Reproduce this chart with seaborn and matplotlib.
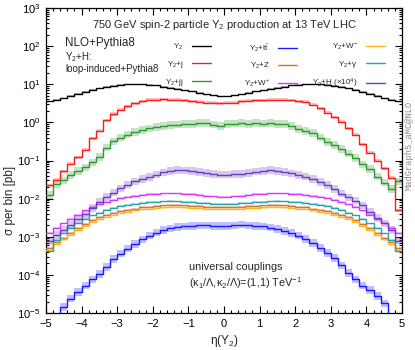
import numpy as np
import pandas as pd
import matplotlib
matplotlib.use("Agg")
import matplotlib.pyplot as plt
from matplotlib.lines import Line2D
from matplotlib.ticker import MultipleLocator, LogLocator, NullFormatter
import seaborn as sns

# ---------------- data (log10 of sigma per bin in pb) -------------
eta_edges = [-5.0 + 0.2 * i for i in range(51)]  # 50 bins of width 0.2 in eta(Y2)

log_y2 = [0.55, 0.59, 0.63, 0.70, 0.75, 0.80, 0.85, 0.89, 0.93, 0.96,
          0.98, 0.995, 1.0, 1.0, 0.99, 0.97, 0.94, 0.91, 0.88, 0.84,
          0.81, 0.77, 0.74, 0.71, 0.68, 0.68, 0.71, 0.74, 0.77, 0.81,
          0.84, 0.88, 0.91, 0.94, 0.97, 0.99, 1.0, 1.0, 0.995, 0.98,
          0.96, 0.93, 0.89, 0.85, 0.80, 0.75, 0.70, 0.63, 0.59, 0.55]
log_y2j = [-1.65, -1.50, -1.28, -1.08, -0.92, -0.72, -0.42, -0.22, 0.05, 0.22,
           0.33, 0.42, 0.50, 0.55, 0.59, 0.60, 0.61, 0.60, 0.60, 0.58,
           0.56, 0.54, 0.52, 0.51, 0.50, 0.51, 0.52, 0.55, 0.57, 0.58,
           0.58, 0.59, 0.59, 0.59, 0.58, 0.56, 0.54, 0.46, 0.37, 0.25,
           0.13, 0.02, -0.15, -0.32, -0.58, -0.80, -1.00, -1.20, -1.45, -2.30]
log_y2jj = [-1.90, -1.62, -1.52, -1.38, -1.27, -1.18, -1.05, -0.90, -0.66, -0.50,
            -0.40, -0.32, -0.26, -0.20, -0.16, -0.12, -0.10, -0.07, -0.06, -0.04,
            -0.05, -0.02, -0.01, -0.06, -0.10, -0.05, -0.03, -0.02, -0.04, -0.01,
            -0.03, -0.02, -0.04, -0.05, -0.10, -0.17, -0.22, -0.28, -0.40, -0.52,
            -0.60, -0.70, -0.82, -0.93, -1.10, -1.22, -1.42, -1.58, -1.75, -1.55]
log_y2tt = [-5.30, -5.10, -4.85, -4.62, -4.45, -4.28, -4.12, -3.98, -3.80, -3.58,
            -3.44, -3.31, -3.19, -3.07, -2.97, -2.89, -2.83, -2.78, -2.75, -2.73,
            -2.71, -2.70, -2.70, -2.71, -2.72, -2.71, -2.70, -2.68, -2.70, -2.71,
            -2.73, -2.76, -2.80, -2.85, -2.90, -2.97, -3.06, -3.17, -3.29, -3.42,
            -3.55, -3.75, -3.95, -4.12, -4.28, -4.40, -4.55, -4.75, -5.10, -5.30]
log_y2z = [-3.30, -3.13, -3.02, -2.90, -2.78, -2.66, -2.57, -2.49, -2.43, -2.38,
           -2.33, -2.29, -2.26, -2.23, -2.21, -2.19, -2.18, -2.17, -2.17, -2.18,
           -2.19, -2.20, -2.21, -2.22, -2.22, -2.22, -2.22, -2.21, -2.20, -2.19,
           -2.18, -2.17, -2.17, -2.18, -2.19, -2.21, -2.23, -2.26, -2.29, -2.33,
           -2.38, -2.43, -2.49, -2.57, -2.66, -2.78, -2.90, -3.02, -3.13, -3.30]
log_y2wp = [-2.90, -2.77, -2.65, -2.53, -2.42, -2.31, -2.22, -2.15, -2.09, -2.03,
            -1.99, -1.95, -1.92, -1.90, -1.88, -1.87, -1.86, -1.86, -1.86, -1.87,
            -1.88, -1.90, -1.92, -1.94, -1.95, -1.95, -1.94, -1.92, -1.90, -1.88,
            -1.87, -1.86, -1.86, -1.86, -1.87, -1.88, -1.90, -1.92, -1.95, -1.99,
            -2.03, -2.09, -2.15, -2.22, -2.31, -2.42, -2.53, -2.65, -2.77, -2.90]
log_y2wm = [-3.36, -3.19, -3.07, -2.95, -2.83, -2.71, -2.62, -2.54, -2.48, -2.43,
            -2.38, -2.34, -2.31, -2.28, -2.26, -2.24, -2.23, -2.22, -2.22, -2.23,
            -2.24, -2.25, -2.26, -2.27, -2.27, -2.27, -2.27, -2.26, -2.25, -2.24,
            -2.23, -2.22, -2.22, -2.23, -2.24, -2.26, -2.28, -2.31, -2.34, -2.38,
            -2.43, -2.48, -2.54, -2.62, -2.71, -2.83, -2.95, -3.07, -3.19, -3.36]
log_y2a = [-3.38, -3.08, -2.91, -2.77, -2.65, -2.53, -2.44, -2.37, -2.30, -2.25,
           -2.20, -2.16, -2.13, -2.11, -2.09, -2.08, -2.07, -2.06, -2.07, -2.08,
           -2.09, -2.11, -2.12, -2.13, -2.14, -2.14, -2.13, -2.12, -2.11, -2.09,
           -2.08, -2.07, -2.06, -2.07, -2.08, -2.09, -2.11, -2.13, -2.16, -2.20,
           -2.25, -2.30, -2.37, -2.44, -2.53, -2.65, -2.77, -2.91, -3.08, -3.38]
log_y2h = [-3.12, -2.95, -2.81, -2.68, -2.54, -2.40, -2.25, -2.08, -1.95, -1.84,
           -1.73, -1.63, -1.55, -1.49, -1.43, -1.37, -1.31, -1.27, -1.25, -1.26,
           -1.28, -1.30, -1.32, -1.35, -1.37, -1.37, -1.36, -1.36, -1.32, -1.29,
           -1.27, -1.25, -1.27, -1.30, -1.34, -1.38, -1.42, -1.48, -1.56, -1.65,
           -1.75, -1.87, -1.97, -2.05, -2.18, -2.34, -2.50, -2.65, -2.82, -3.10]

labels = ["Y$_2$", "Y$_2$+j", "Y$_2$+jj",
          "Y$_2$+t$\\bar{\\rm t}$", "Y$_2$+Z", "Y$_2$+W$^{+}$",
          "Y$_2$+W$^{-}$", "Y$_2$+$\\gamma$", "Y$_2$+H (\u00d710$^{4}$)"]
series = [log_y2, log_y2j, log_y2jj, log_y2tt, log_y2z, log_y2wp, log_y2wm, log_y2a, log_y2h]
colors = ["#000000", "#ff1a1a", "#2e9a2e", "#1a1aff", "#d9703a", "#dd33ff",
          "#ffb520", "#1fa8a8", "#6e3cc4"]
band = [0.015, 0.04, 0.10, 0.10, 0.025, 0.02, 0.03, 0.02, 0.10]  # half-width of shaded band (dex)

# ---------------- style ----------------
sns.set_theme(style="ticks")
plt.rcParams["font.family"] = ["Liberation Sans", "DejaVu Sans"]
plt.rcParams["mathtext.fontset"] = "custom"
plt.rcParams["mathtext.rm"] = "Liberation Sans"
plt.rcParams["mathtext.it"] = "Liberation Sans:italic"
plt.rcParams["mathtext.default"] = "rm"

fig = plt.figure(figsize=(4.15, 3.5), dpi=100)
ax = fig.add_axes([46 / 415, 1 - 313 / 350, 356 / 415, 305 / 350])
ax.set_yscale("log")

edges = np.array(eta_edges)
for lab, vals, c, bw in zip(labels, series, colors, band):
    v = np.array(vals)
    v_ext = np.append(v, v[-1])
    ax.fill_between(edges, 10 ** (v_ext - bw), 10 ** (v_ext + bw), step="post",
                    color=c, alpha=0.28, lw=0, zorder=1)
    df = pd.DataFrame({"eta": edges, "sigma": 10 ** v_ext})
    sns.lineplot(data=df, x="eta", y="sigma", color=c, drawstyle="steps-post",
                 lw=1.0, estimator=None, ax=ax, zorder=3)

ax.set_xlim(-5, 5)
ax.set_ylim(1e-5, 1e3)
ax.xaxis.set_major_locator(MultipleLocator(1))
ax.xaxis.set_minor_locator(MultipleLocator(0.2))
ax.yaxis.set_major_locator(LogLocator(base=10, numticks=20))
ax.yaxis.set_minor_locator(LogLocator(base=10, subs=np.arange(2, 10), numticks=20))
ax.yaxis.set_minor_formatter(NullFormatter())
ax.xaxis.set_minor_formatter(NullFormatter())
ax.xaxis.get_offset_text().set_visible(False)
ax.yaxis.get_offset_text().set_visible(False)
ax.tick_params(which="both", direction="in", top=True, right=True, colors="black",
               labelsize=8, width=0.8)
ax.tick_params(which="major", length=5, pad=4)
ax.tick_params(which="minor", length=2.5)
for s in ax.spines.values():
    s.set_color("black")
    s.set_linewidth(0.9)

ax.set_xlabel("\u03b7(Y$_2$)", fontsize=8.5, labelpad=3)
ax.set_ylabel("\u03c3 per bin [pb]", fontsize=8.5)
ax.yaxis.set_label_coords(-0.085, 0.37)

# ---------------- legend: three right-aligned columns ----------------
col_right = [211 / 415, 297 / 415, 385 / 415]
for k in range(3):
    handles = [Line2D([], [], color=colors[3 * k + j], lw=1.0) for j in range(3)]
    fig.legend(handles, labels[3 * k:3 * k + 3], loc="upper right",
               bbox_to_anchor=(col_right[k], 1 - 42 / 350),
               frameon=False, markerfirst=False, fontsize=5.8,
               handlelength=2.4, handletextpad=1.0, labelspacing=0.85,
               borderpad=0, borderaxespad=0)

# ---------------- texts ----------------
fig.text(224 / 415, 1 - 25 / 350, "750 GeV spin-2 particle Y$_2$ production at 13 TeV LHC",
         ha="center", va="center", fontsize=8)
fig.text(65 / 415, 1 - 43 / 350, "NLO+Pythia8", ha="left", va="center", fontsize=8.4)
fig.text(65 / 415, 1 - 57 / 350, "Y$_2$+H:", ha="left", va="center", fontsize=7)
fig.text(65 / 415, 1 - 69 / 350, "loop-induced+Pythia8", ha="left", va="center", fontsize=7)
fig.text(189 / 415, 1 - 267 / 350, "universal couplings", ha="left", va="center", fontsize=7.8)
fig.text(189 / 415, 1 - 283 / 350, "(\u03ba$_1$/\u039b,\u03ba$_2$/\u039b)=(1,1) TeV$^{-1}$",
         ha="left", va="center", fontsize=7.8)
fig.text(409 / 415, 1 - 145 / 350, "MadGraph5_aMC@NLO", rotation=90, ha="center",
         va="center", fontsize=6.3, color="#888888", family="Liberation Mono")

fig.savefig("out.png", dpi=100)
